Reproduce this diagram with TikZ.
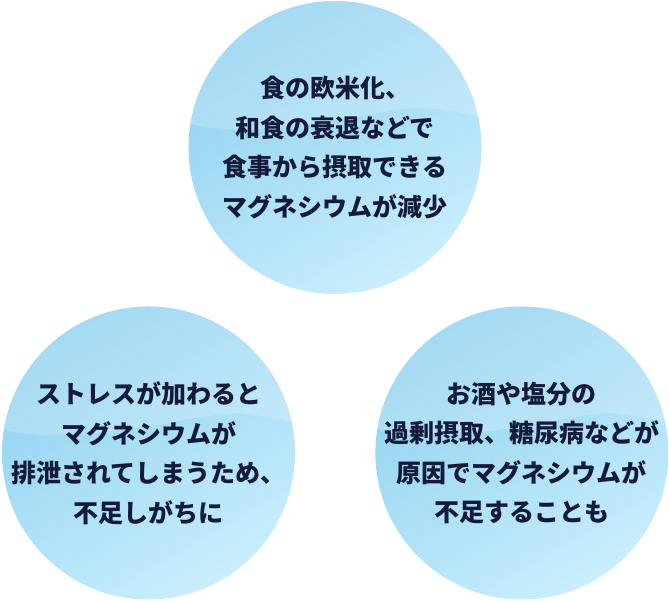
\documentclass[tikz,border=0pt]{standalone}
\usepackage{fontspec}
\usepackage{tikz}
\usetikzlibrary{positioning}
\newfontfamily\jpfont{Noto Sans CJK JP}
\definecolor{ctext}{HTML}{141B3A}
\definecolor{cdeep}{HTML}{8ED1F0}
\definecolor{clight}{HTML}{C9EEFD}

\begin{document}
\begin{tikzpicture}[x=1pt,y=1pt,
  bubble node/.style={circle,minimum size=293pt,inner sep=0pt,
    top color=cdeep,bottom color=clight,shading angle=30},
  text node/.style={align=center,inner sep=0pt,text=ctext,
    font=\jpfont\bfseries\fontsize{25}{39.5}\selectfont},
  wave/.style={white,fill opacity=0.2}]
  \useasboundingbox (0,0) rectangle (669,601);
  \node[bubble node] (c1) at (335,453.5) {};
  \node[bubble node] (c2) at (148.5,148) {};
  \node[bubble node] (c3) [right=80pt of c2] {};
  % lighter band above the wave line
  \foreach \c in {c1,c2,c3}{
    \begin{scope}
      \clip (\c.center) circle (146.5);
      \fill[wave,shift={(\c.center)}]
        (-150,25) .. controls (-110,12) and (-40,18) .. (40,34)
        .. controls (90,42) .. (150,30) -- (150,150) -- (-150,150) -- cycle;
    \end{scope}
  }
  \node[text node] (1) at (c1) {食の欧米化、\\和食の衰退などで\\食事から摂取できる\\マグネシウムが減少};
  \node[text node] (2) at (c2) {ストレスが加わると\\マグネシウムが\\排泄されてしまうため、\\不足しがちに};
  \node[text node] (3) at (c3) {お酒や塩分の\\過剰摂取、糖尿病などが\\原因でマグネシウムが\\不足することも};
\end{tikzpicture}
\end{document}
